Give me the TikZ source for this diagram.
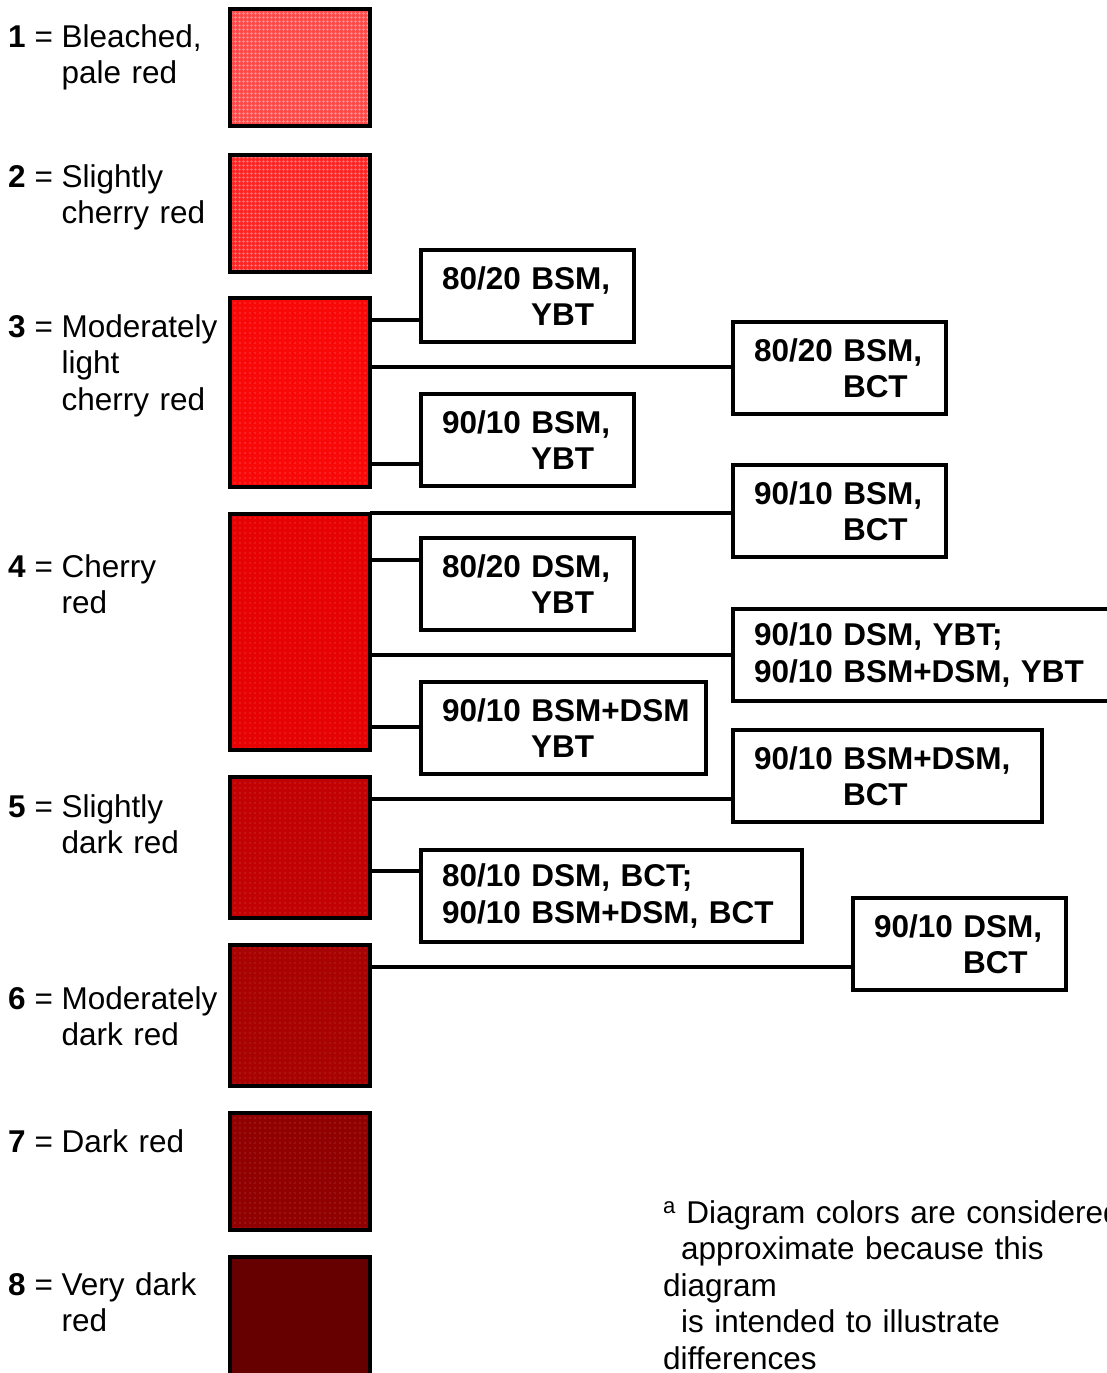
\documentclass[tikz,border=0pt]{standalone}
\usepackage{fontspec}
\setmainfont{Liberation Sans}
\usetikzlibrary{patterns.meta}
\definecolor{c1}{HTML}{FF4A4A}
\definecolor{c2}{HTML}{FF2626}
\definecolor{c3}{HTML}{F90808}
\definecolor{c4}{HTML}{E60202}
\definecolor{c5}{HTML}{C20202}
\definecolor{c6}{HTML}{A80202}
\definecolor{c7}{HTML}{900000}
\definecolor{c8}{HTML}{660000}
\newcommand\lnumx[1]{\textbf{#1}\hspace{9pt}=\hspace{8.5pt}}
\begin{document}
\begin{tikzpicture}[x=1pt,y=-1pt,
  swatch/.style={draw=black, line width=4pt, anchor=north west, outer sep=0pt, minimum width=140pt, inner sep=0pt, preaction={fill=#1}},
  gridpat/.style={pattern={Hatch[angle=0,distance=4pt,line width=0.6pt]}, pattern color=#1},
  dotpat/.style={pattern={Dots[distance=5pt,radius=0.55pt]}, pattern color=#1},
  cbox/.style={draw=black, line width=4pt, anchor=north west, outer sep=0pt, inner xsep=21pt, inner ysep=0pt, minimum height=92pt, text width=#1, align=left, font=\fontsize{31.5}{36.5}\selectfont\bfseries},
  lbl/.style={anchor=base west, inner sep=0pt, text width=230pt, align=left, font=\fontsize{31.5}{36.5}\selectfont},
  conn/.style={draw=black, line width=3.5pt}]
\useasboundingbox (0,0) rectangle (1107,1373);
% swatches
\node[swatch=c1, gridpat=c1!55!white, minimum height=117pt] (s1) at (230,9) {};
\node[swatch=c2, gridpat=c2!60!white, minimum height=117pt] (s2) at (230,155) {};
\node[swatch=c3, dotpat=c3!55!white, minimum height=189pt] (s3) at (230,298) {};
\node[swatch=c4, dotpat=c4!65!white, minimum height=236pt] (s4) at (230,514) {};
\node[swatch=c5, dotpat=c5!70!white, minimum height=141pt] (s5) at (230,777) {};
\node[swatch=c6, dotpat=c6!70!white, minimum height=141pt] (s6) at (230,945) {};
\node[swatch=c7, dotpat=c7!65!white, minimum height=117pt] (s7) at (230,1113) {};
\node[swatch=c8, minimum height=140pt] (s8) at (230,1257) {};
% labels
\node[lbl] (l1) at (8,47) {\lnumx{1}Bleached,\\\hphantom{\lnumx{1}}pale red};
\node[lbl] (l2) at (8,187) {\lnumx{2}Slightly\\\hphantom{\lnumx{2}}cherry red};
\node[lbl] (l3) at (8,337) {\lnumx{3}Moderately\\\hphantom{\lnumx{3}}light\\\hphantom{\lnumx{3}}cherry red};
\node[lbl] (l4) at (8,577) {\lnumx{4}Cherry\\\hphantom{\lnumx{4}}red};
\node[lbl] (l5) at (8,817) {\lnumx{5}Slightly\\\hphantom{\lnumx{5}}dark red};
\node[lbl] (l6) at (8,1009) {\lnumx{6}Moderately\\\hphantom{\lnumx{6}}dark red};
\node[lbl] (l7) at (8,1152) {\lnumx{7}Dark red};
\node[lbl] (l8) at (8,1295) {\lnumx{8}Very dark\\\hphantom{\lnumx{8}}red};
% boxes
\node[cbox=171pt] (A) at (421,250) {80/20~BSM,\\\hspace*{89pt}YBT};
\node[cbox=171pt] (B) at (733,322) {80/20~BSM,\\\hspace*{89pt}BCT};
\node[cbox=171pt] (C) at (421,394) {90/10~BSM,\\\hspace*{89pt}YBT};
\node[cbox=171pt] (D) at (733,465) {90/10~BSM,\\\hspace*{89pt}BCT};
\node[cbox=171pt] (E) at (421,538) {80/20~DSM,\\\hspace*{89pt}YBT};
\node[cbox=348pt] (F) at (733,609) {90/10~DSM,~YBT;\\90/10~BSM+DSM,~YBT};
\node[cbox=243pt] (G) at (421,682) {90/10~BSM+DSM\\\hspace*{89pt}YBT};
\node[cbox=267pt] (H) at (733,730) {90/10~BSM+DSM,\\\hspace*{89pt}BCT};
\node[cbox=339pt] (I) at (421,850) {80/10~DSM,~BCT;\\90/10~BSM+DSM,~BCT};
\node[cbox=171pt] (J) at (853,898) {90/10~DSM,\\\hspace*{89pt}BCT};
% connectors
\draw[conn] (s3.east |- 0,320) -- (A.west |- 0,320);
\draw[conn] (s3.east |- 0,367) -- (B.west |- 0,367);
\draw[conn] (s3.east |- 0,464) -- (C.west |- 0,464);
\draw[conn] (s4.east |- 0,513) -- (D.west |- 0,513);
\draw[conn] (s4.east |- 0,560) -- (E.west |- 0,560);
\draw[conn] (s4.east |- 0,655) -- (F.west |- 0,655);
\draw[conn] (s4.east |- 0,727) -- (G.west |- 0,727);
\draw[conn] (s5.east |- 0,799) -- (H.west |- 0,799);
\draw[conn] (s5.east |- 0,871) -- (I.west |- 0,871);
\draw[conn] (s6.east |- 0,967) -- (J.west |- 0,967);
% footnote
\node[lbl, text width=520pt] (fn) at (663,1223) {\textsuperscript{a} Diagram colors are considered\\\hspace*{18pt}approximate because this\\diagram\\\hspace*{18pt}is intended to illustrate\\differences};
\end{tikzpicture}
\end{document}
